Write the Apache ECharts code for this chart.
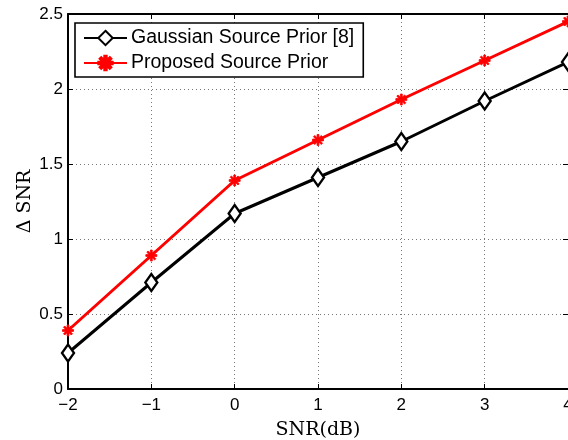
<!DOCTYPE html>
<html>
<head>
<meta charset="utf-8">
<script src="https://cdn.jsdelivr.net/npm/echarts@6/dist/echarts.min.js"></script>
<style>html,body{margin:0;padding:0;background:#fff;}#c{width:568px;height:440px;}</style>
</head>
<body>
<div id="c"></div>
<script>
const snr = [-2, -1, 0, 1, 2, 3, 4];
const gaussian = [0.24, 0.71, 1.17, 1.41, 1.65, 1.92, 2.18];
const proposed = [0.39, 0.89, 1.39, 1.66, 1.93, 2.19, 2.45];
const seriesNames = ['Gaussian Source Prior [8]', 'Proposed Source Prior'];
const xName = 'SNR(dB)';
const yName = '\u0394 SNR';

const asterisk = 'path://M-1,-6L1,-6L1,6L-1,6Z M6,-1L6,1L-6,1L-6,-1Z M-4.95,-3.54L-3.54,-4.95L4.95,3.54L3.54,4.95Z M3.54,-4.95L4.95,-3.54L-3.54,4.95L-4.95,3.54Z';
const sans = 'Liberation Sans';
const serif = 'DejaVu Serif';

const chart = echarts.init(document.getElementById('c'), null, {renderer: 'canvas'});
const tickLabel = {color: '#000', fontFamily: sans, fontSize: 17};
chart.setOption({
  animation: false,
  backgroundColor: '#fff',
  grid: {left: 68, right: 0, top: 14, bottom: 51, outerBoundsMode: 'none', containLabel: false},
  legend: {
    left: 75, top: 23, orient: 'vertical',
    backgroundColor: '#fff', borderColor: '#000', borderWidth: 1.6,
    padding: [5, 9, 4, 8], itemGap: 5, itemWidth: 43, itemHeight: 18,
    textStyle: {color: '#000', fontFamily: sans, fontSize: 19.5, padding: [0, 0, 0, -1]},
    data: seriesNames
  },
  xAxis: [{
    type: 'value', min: -2, max: 4, interval: 1,
    name: xName, nameLocation: 'middle', nameGap: 32, nameMoveOverlap: false,
    nameTextStyle: {color: '#000', fontFamily: serif, fontSize: 19},
    axisLine: {show: true, onZero: false, lineStyle: {color: '#000', width: 2}},
    axisTick: {show: true, inside: true, length: 5, lineStyle: {color: '#000'}},
    axisLabel: Object.assign({margin: 8, formatter: v => String(v).replace('-', '\u2212')}, tickLabel),
    splitLine: {show: true, lineStyle: {color: '#777', type: [1, 3], width: 1}}
  }, {
    type: 'value', min: -2, max: 4, interval: 1, position: 'top',
    axisLine: {show: true, onZero: false, lineStyle: {color: '#000', width: 2}},
    axisTick: {show: true, inside: true, length: 5, lineStyle: {color: '#000'}},
    axisLabel: {show: false}, splitLine: {show: false}
  }],
  yAxis: [{
    type: 'value', min: 0, max: 2.5, interval: 0.5,
    name: yName, nameLocation: 'middle', nameGap: 33, nameRotate: 90, nameMoveOverlap: false,
    nameTextStyle: {color: '#000', fontFamily: serif, fontSize: 19},
    axisLine: {show: true, onZero: false, lineStyle: {color: '#000', width: 2}},
    axisTick: {show: true, inside: true, length: 5, lineStyle: {color: '#000'}},
    axisLabel: Object.assign({margin: 5}, tickLabel),
    splitLine: {show: true, lineStyle: {color: '#777', type: [1, 3], width: 1}}
  }, {
    type: 'value', min: 0, max: 2.5, interval: 0.5, position: 'right',
    axisLine: {show: false, onZero: false},
    axisTick: {show: true, inside: true, length: 5, lineStyle: {color: '#000'}},
    axisLabel: {show: false}, splitLine: {show: false}
  }],
  series: [{
    name: seriesNames[0], type: 'line',
    data: snr.map((x, i) => [x, gaussian[i]]),
    symbol: 'diamond', symbolSize: [12, 17], showAllSymbol: true,
    lineStyle: {color: '#000', width: 3},
    itemStyle: {color: '#fff', borderColor: '#000', borderWidth: 2.4},
    z: 3
  }, {
    name: seriesNames[1], type: 'line',
    data: snr.map((x, i) => [x, proposed[i]]),
    symbol: asterisk, symbolSize: 11, showAllSymbol: true,
    lineStyle: {color: '#ff0000', width: 3},
    itemStyle: {color: '#ff0000', borderColor: '#ff0000', borderWidth: 0.8},
    z: 3
  }]
});
</script>
</body>
</html>
